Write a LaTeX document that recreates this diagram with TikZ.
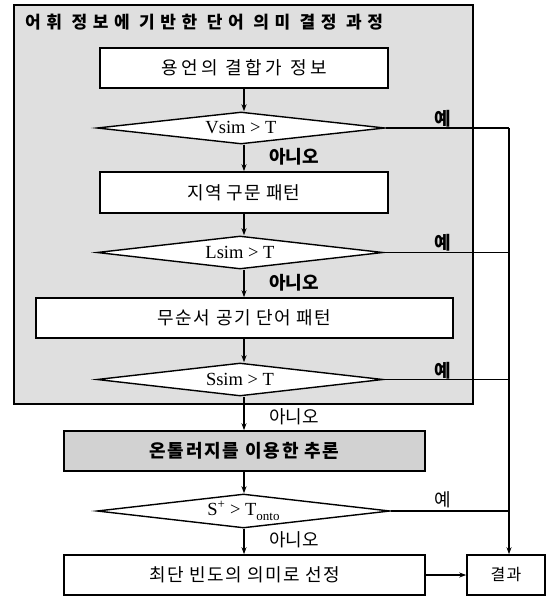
\documentclass[tikz,border=0pt]{standalone}
\usepackage{fontspec}
\setmainfont{Liberation Serif}
\newfontfamily\ko{Noto Sans CJK KR}
\usetikzlibrary{shapes.geometric,arrows.meta}
\begin{document}
\begin{tikzpicture}[x=1pt,y=-1pt,
  box/.style={draw,line width=1.6pt,rectangle,inner sep=0pt,fill=white},
  dia/.style={draw,line width=1.4pt,diamond,aspect=9,inner sep=0pt,fill=white,font=\fontsize{18.5}{20}\selectfont},
  conn/.style={line width=1.2pt},
  arr/.style={conn,-{Stealth[length=7pt,width=5pt]}},
  labb/.style={font=\ko\fontsize{18}{20}\selectfont\bfseries, inner sep=0pt},
  labr/.style={font=\ko\fontsize{18}{20}\selectfont, inner sep=0pt},
]
\useasboundingbox (0,0) rectangle (555,596);
% outer grey region
\node[draw,line width=1.6pt,fill=gray!25,minimum width=459pt,minimum height=399pt,inner sep=0pt] (outer) at (243.5,204.5) {};
\node[anchor=west,inner sep=0pt,font={\ko\fontsize{17}{19}\selectfont\bfseries\addfontfeature{LetterSpace=33}}] (title) at (25,22) {어휘 정보에 기반한 단어 의미 결정 과정};

% boxes
\node[box,minimum width=288pt,minimum height=40pt,font={\ko\fontsize{18}{20}\selectfont\addfontfeature{LetterSpace=20}}] (b1) at (244,68) {용언의 결합가 정보};
\node[dia,minimum width=288pt,minimum height=32pt] (v) at (241,128) {Vsim > T};
\node[box,minimum width=288pt,minimum height=41pt,font={\ko\fontsize{18}{20}\selectfont\addfontfeature{LetterSpace=6}}] (b2) at (244,192.5) {지역 구문 패턴};
\node[dia,minimum width=286pt,minimum height=33pt] (l) at (240,252.5) {Lsim > T};
\node[box,minimum width=417pt,minimum height=40pt,font={\ko\fontsize{18}{20}\selectfont\addfontfeature{LetterSpace=9}}] (b3) at (244.5,318) {무순서 공기 단어 패턴};
\node[dia,minimum width=286pt,minimum height=33pt] (s) at (240,379.5) {Ssim > T};
\node[box,fill=gray!35,minimum width=361pt,minimum height=40pt,font={\ko\fontsize{18}{20}\selectfont\bfseries\addfontfeature{LetterSpace=10}}] (onto) at (244.5,451) {온톨러지를 이용한 추론};
\node[dia,minimum width=293pt,minimum height=34pt] (o) at (243.5,511) {S\textsuperscript{+} > T\raisebox{-5pt}{\fontsize{13}{14}\selectfont onto}};
\node[box,minimum width=361pt,minimum height=40pt,font={\ko\fontsize{18}{20}\selectfont\addfontfeature{LetterSpace=8}}] (fin) at (244.5,575) {최단 빈도의 의미로 선정};
\node[box,minimum width=78pt,minimum height=40pt,font={\ko\fontsize{16}{18}\selectfont\addfontfeature{LetterSpace=8}}] (res) at (506,575) {결과};

% vertical flow
\draw[arr] (b1.south) -- (b1.south |- v.north);
\draw[arr] (b1.south |- v.south) -- (b2.north);
\draw[arr] (b2.south) -- (b2.south |- l.north);
\draw[arr] (b2.south |- l.south) -- (b2.south |- b3.north);
\draw[arr] (b2.south |- b3.south) -- (b2.south |- s.north);
\draw[arr] (b2.south |- s.south) -- (b2.south |- onto.north);
\draw[arr] (b2.south |- onto.south) -- (b2.south |- o.north);
\draw[arr] (b2.south |- o.south) -- (b2.south |- fin.north);
\draw[arr] (fin.east) -- (res.west);

% yes branches
\coordinate (rc) at (509,0);
\draw[conn] (v.east) -- (v.east -| rc);
\draw[conn] (l.east) -- (l.east -| rc);
\draw[conn] (s.east) -- (s.east -| rc);
\draw[conn] (o.east) -- (o.east -| rc);
\draw[arr] (v.east -| rc) -- (res.north -| rc);

% labels
\node[labb] (y1) at (443,119) {예};
\node[labb] (y2) at (443,243) {예};
\node[labb] (y3) at (443,371) {예};
\node[labr] (y4) at (443,500) {예};
\node[labb] (n1) at (294,157) {아니오};
\node[labb] (n2) at (294,283) {아니오};
\node[labr] (n3) at (294,417) {아니오};
\node[labr] (n4) at (294,540) {아니오};
\end{tikzpicture}
\end{document}
